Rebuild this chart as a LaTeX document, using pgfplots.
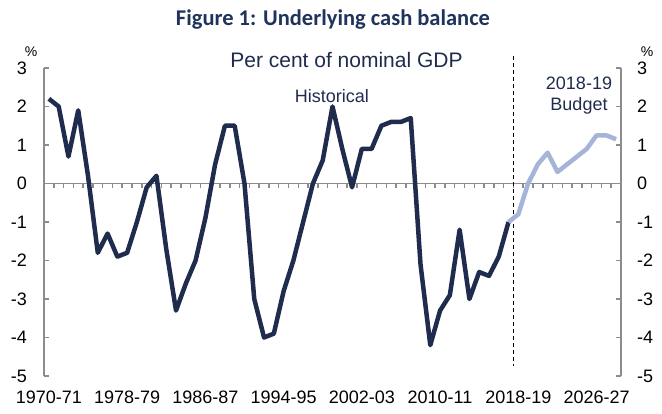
\documentclass[border=0pt]{standalone}
\usepackage{fontspec}
\setmainfont{Liberation Sans}
\newfontfamily\titlefont{Carlito}
\usepackage{pgfplots}
\pgfplotsset{compat=1.18}
\usepackage{pgfplotstable}

\definecolor{navy}{RGB}{31,44,77}
\definecolor{lightblue}{RGB}{166,180,218}
\definecolor{axgray}{RGB}{140,140,140}
\definecolor{titleblue}{RGB}{31,52,92}

\pgfplotstableread{
x y
0 2.2
1 2.0
2 0.7
3 1.9
4 0.2
5 -1.8
6 -1.3
7 -1.9
8 -1.8
9 -1.0
10 -0.1
11 0.2
12 -1.7
13 -3.3
14 -2.6
15 -2.0
16 -0.9
17 0.5
18 1.5
19 1.5
20 0.0
21 -3.0
22 -4.0
23 -3.9
24 -2.8
25 -2.0
26 -1.0
27 0.0
28 0.6
29 2.0
30 0.9
31 -0.1
32 0.9
33 0.9
34 1.5
35 1.6
36 1.6
37 1.7
38 -2.1
39 -4.2
40 -3.3
41 -2.9
42 -1.2
43 -3.0
44 -2.3
45 -2.4
46 -1.9
47 -1.0
}\hist

\pgfplotstableread{
x y
47 -1.0
48 -0.8
49 0.0
50 0.5
51 0.8
52 0.3
53 0.5
54 0.7
55 0.9
56 1.25
57 1.25
58 1.15
}\fcst

\begin{document}
\begin{tikzpicture}[x=1pt,y=1pt]
\useasboundingbox (0,0) rectangle (662,414);
% right axis
\begin{axis}[at={(44pt,38pt)}, anchor=south west, scale only axis,
  width=577pt, height=308pt,
  xmin=-0.5, xmax=58.5, ymin=-5, ymax=3,
  axis y line*=right, axis x line=none,
  y axis line style={axgray, line width=1.8pt},
  ytick={-5,-4,...,3},
  yticklabels={-5,-4,-3,-2,-1,0,1,2,3},
  ytick style={axgray, line width=1.5pt},
  tick align=inside, major tick length=5pt,
  yticklabel style={font=\fontsize{18}{20}\selectfont, text=black, inner sep=0pt, anchor=west, xshift=16pt},
]
\end{axis}
% main axis
\begin{axis}[at={(44pt,38pt)}, anchor=south west, scale only axis,
  width=577pt, height=308pt,
  xmin=-0.5, xmax=58.5, ymin=-5, ymax=3,
  axis y line*=left, axis x line*=bottom,
  x axis line style={draw=none},
  y axis line style={axgray, line width=1.8pt},
  ytick={-5,-4,...,3},
  yticklabels={-5,-4,-3,-2,-1,0,1,2,3},
  ytick style={axgray, line width=1.5pt},
  xtick={0,8,...,56},
  xticklabels={1970-71,1978-79,1986-87,1994-95,2002-03,2010-11,2018-19,2026-27},
  xtick style={draw=none},
  tick align=inside, major tick length=5pt,
  yticklabel style={font=\fontsize{18}{20}\selectfont, text=black, inner sep=0pt, anchor=east, xshift=-17pt},
  xticklabel style={font=\fontsize{18}{20}\selectfont, text=black, inner sep=0pt, anchor=north, yshift=-15pt},
  clip=false,
]
\draw[axgray, line width=1.8pt] (axis cs:-0.5,0) -- (axis cs:58.5,0);
\pgfplotsinvokeforeach{-0.5,0.5,...,58.5}{
  \draw[axgray, line width=1.5pt] (axis cs:#1,0) -- ++(0pt,-5pt);
}
\draw[black, line width=1.2pt, dash pattern=on 4pt off 3pt] (axis cs:47.5,3.3) -- (axis cs:47.5,-4.75);
\addplot[navy, line width=4.5pt, line join=round, no markers] table[x=x,y=y]{\hist};
\addplot[lightblue, line width=4.5pt, line join=round, no markers] table[x=x,y=y]{\fcst};
\end{axis}

\node[font=\titlefont\bfseries\fontsize{22.5}{25}\selectfont, text=titleblue, anchor=base] at (333,388) {Figure 1: Underlying cash balance};
\node[font=\fontsize{21}{24}\selectfont, text=navy, anchor=base] at (346.5,346) {Per cent of nominal GDP};
\node[font=\fontsize{18}{20}\selectfont, text=navy, anchor=base] at (332,311) {Historical};
\node[font=\fontsize{18}{20}\selectfont, text=navy, anchor=base] at (579,324) {2018-19};
\node[font=\fontsize{18}{20}\selectfont, text=navy, anchor=base] at (579,303) {Budget};
\node[font=\fontsize{14}{16}\selectfont, text=black, anchor=base] at (31,357) {\%};
\node[font=\fontsize{14}{16}\selectfont, text=black, anchor=base] at (647,357) {\%};
\end{tikzpicture}
\end{document}
